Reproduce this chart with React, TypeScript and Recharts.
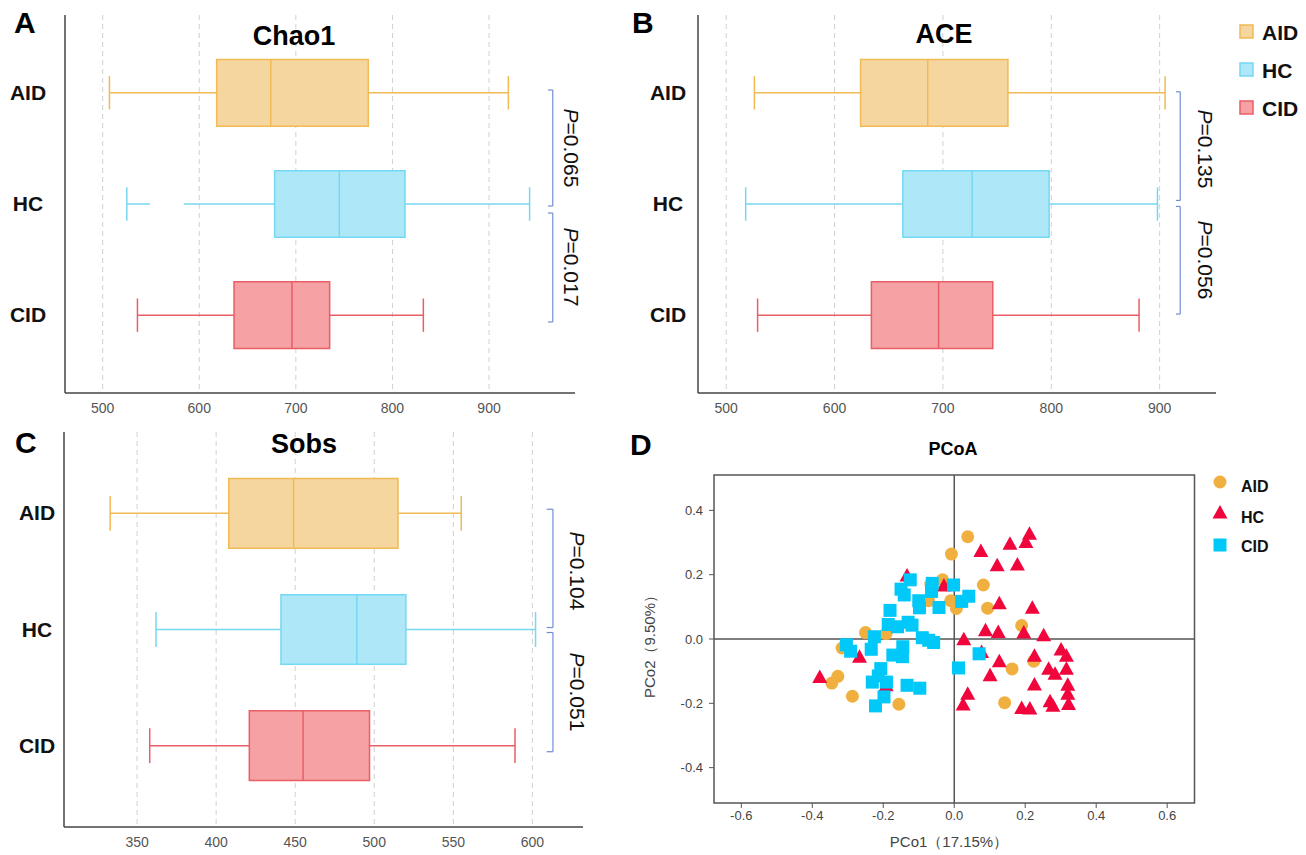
import React from 'react'
import {
  ComposedChart, ScatterChart, Scatter, XAxis, YAxis, CartesianGrid,
  ReferenceArea, ReferenceLine,
} from 'recharts'

const GROUPS = ['AID', 'HC', 'CID']
const ROWS = [3, 2, 1] // y position of AID, HC, CID

// [min, q1, median, q3, max]
const CHAO1 = [
  [507, 618, 674, 775, 920],
  [525, 678, 745, 813, 942],
  [536, 636, 696, 735, 832],
]
const CHAO1_GAP = [null, [549, 584], null] // HC whisker is broken here
const ACE = [
  [526, 624, 686, 760, 905],
  [518, 663, 727, 798, 898],
  [529, 634, 696, 746, 881],
]
const SOBS = [
  [333, 408, 449, 515, 555],
  [362, 441, 489, 520, 602],
  [358, 421, 455, 497, 589],
]

const CHAO1_TICKS = [500, 600, 700, 800, 900]
const ACE_TICKS = [500, 600, 700, 800, 900]
const SOBS_TICKS = [350, 400, 450, 500, 550, 600]

const CHAO1_P = ['0.065', '0.017']
const ACE_P = ['0.135', '0.056']
const SOBS_P = ['0.104', '0.051']

// PCoA coordinates [PCo1, PCo2]
const AID_PTS = [
  [0.038, 0.318], [-0.008, 0.264], [-0.033, 0.184], [-0.066, 0.171], [0.082, 0.168],
  [-0.072, 0.119], [-0.010, 0.119], [0.006, 0.095], [0.094, 0.096], [0.190, 0.042],
  [-0.250, 0.020], [-0.192, 0.017], [-0.316, -0.028], [-0.328, -0.116], [-0.345, -0.137],
  [-0.287, -0.178], [-0.156, -0.203], [0.163, -0.093], [0.224, -0.069], [0.142, -0.198],
]
const HC_PTS = [
  [0.212, 0.326], [0.202, 0.300], [0.157, 0.295], [0.075, 0.272], [0.121, 0.228],
  [0.178, 0.230], [-0.133, 0.196], [-0.029, 0.165], [0.127, 0.110], [0.220, 0.096],
  [0.088, 0.026], [0.124, 0.020], [0.196, 0.019], [0.252, 0.010], [0.027, -0.002],
  [-0.267, -0.057], [0.077, -0.042], [0.226, -0.054], [0.301, -0.034], [0.316, -0.054],
  [0.127, -0.071], [0.266, -0.094], [0.316, -0.094], [0.284, -0.110], [0.101, -0.114],
  [-0.379, -0.120], [0.226, -0.143], [0.320, -0.144], [0.038, -0.172], [0.320, -0.172],
  [0.025, -0.205], [0.270, -0.195], [0.278, -0.209], [0.190, -0.216], [0.213, -0.218],
  [0.322, -0.204], [-0.192, -0.145],
]
const CID_PTS = [
  [-0.124, 0.184], [-0.062, 0.173], [-0.002, 0.168], [-0.150, 0.155], [-0.141, 0.137],
  [-0.064, 0.148], [-0.100, 0.119], [-0.098, 0.097], [-0.043, 0.098], [0.021, 0.117],
  [0.041, 0.133], [-0.181, 0.089], [-0.186, 0.045], [-0.160, 0.038], [-0.130, 0.052],
  [-0.119, 0.043], [-0.225, 0.007], [-0.090, 0.004], [-0.072, -0.004], [-0.058, -0.011],
  [-0.304, -0.018], [-0.292, -0.038], [-0.234, -0.032], [-0.145, -0.024], [-0.173, -0.050],
  [-0.146, -0.055], [-0.207, -0.092], [-0.214, -0.115], [-0.231, -0.134], [-0.191, -0.134],
  [-0.133, -0.144], [-0.097, -0.153], [-0.198, -0.180], [-0.222, -0.208], [0.070, -0.046],
  [0.012, -0.090],
]
const PC_X_TICKS = [-0.6, -0.4, -0.2, 0, 0.2, 0.4, 0.6]
const PC_Y_TICKS = [-0.4, -0.2, 0, 0.2, 0.4]

const FILL = ['#F6D69F', '#AEE8F8', '#F6A1A4']
const STROKE = ['#F0BA55', '#76D7F2', '#EA5E66']
const DOT = ['#F0B040', '#F0063C', '#00C8F8']
const BRACKET = '#6F8FD2'
const NARROW = "'Liberation Sans Narrow', 'Liberation Sans', Arial, sans-serif"

function makeTick(offset: number) {
  return (props: any) => {
    const { x, y, payload } = props
    return (
      <text x={x - offset} y={y} dy={7} textAnchor="middle" fontSize={21}
        fontWeight="bold" fill="#111">
        {GROUPS[3 - payload.value]}
      </text>
    )
  }
}

function BoxPanel({ stats, gaps, ticks, xDomain, width, height, yAxisW, right, labelOffset, bx, tick, spans }: any) {
  const anchors = stats.map((s: number[], i: number) => ({ x: s[2], y: ROWS[i] }))
  const lines: any[] = []
  stats.forEach((s: number[], i: number) => {
    const c = ROWS[i]
    const col = STROKE[i]
    const gap = gaps ? gaps[i] : null
    const low = gap ? [[s[0], gap[0]], [gap[1], s[1]]] : [[s[0], s[1]]]
    low.forEach((seg, j) => lines.push(
      <ReferenceLine key={`l${i}${j}`} segment={[{ x: seg[0], y: c }, { x: seg[1], y: c }]} stroke={col} strokeWidth={1.5} />
    ))
    lines.push(
      <ReferenceLine key={`h${i}`} segment={[{ x: s[3], y: c }, { x: s[4], y: c }]} stroke={col} strokeWidth={1.5} />,
      <ReferenceLine key={`c0${i}`} segment={[{ x: s[0], y: c - 0.15 }, { x: s[0], y: c + 0.15 }]} stroke={col} strokeWidth={1.5} />,
      <ReferenceLine key={`c1${i}`} segment={[{ x: s[4], y: c - 0.15 }, { x: s[4], y: c + 0.15 }]} stroke={col} strokeWidth={1.5} />,
    )
  })
  return (
    <ComposedChart width={width} height={height} margin={{ top: 15, right, left: 0, bottom: 0 }}>
      <CartesianGrid horizontal={false} syncWithTicks stroke="#d0d0d0" strokeDasharray="5 4" />
      <XAxis type="number" dataKey="x" domain={xDomain} ticks={ticks} allowDataOverflow height={27}
        axisLine={{ stroke: '#444', strokeWidth: 1.5 }} tickLine={false} tickSize={0} tickMargin={10}
        tick={{ fill: '#555', fontSize: 14, fontFamily: NARROW }} />
      <YAxis type="number" dataKey="y" domain={[0.3, 3.7]} ticks={ROWS} allowDataOverflow width={yAxisW}
        axisLine={{ stroke: '#444', strokeWidth: 1.5 }} tickLine={false} tickSize={0} tickMargin={0}
        tick={makeTick(labelOffset)} />
      {stats.map((s: number[], i: number) => (
        <ReferenceArea key={`b${i}`} x1={s[1]} x2={s[3]} y1={ROWS[i] - 0.3} y2={ROWS[i] + 0.3}
          fill={FILL[i]} fillOpacity={1} stroke={STROKE[i]} strokeWidth={1.5} />
      ))}
      {lines}
      {stats.map((s: number[], i: number) => (
        <ReferenceLine key={`m${i}`} segment={[{ x: s[2], y: ROWS[i] - 0.3 }, { x: s[2], y: ROWS[i] + 0.3 }]}
          stroke={STROKE[i]} strokeWidth={1.5} />
      ))}
      {spans.map((sp: number[], k: number) => (
        <React.Fragment key={`br${k}`}>
          <ReferenceLine segment={[{ x: bx, y: sp[0] }, { x: bx, y: sp[1] }]} stroke={BRACKET} strokeWidth={1.2} />
          <ReferenceLine segment={[{ x: tick, y: sp[0] }, { x: bx, y: sp[0] }]} stroke={BRACKET} strokeWidth={1.2} />
          <ReferenceLine segment={[{ x: tick, y: sp[1] }, { x: bx, y: sp[1] }]} stroke={BRACKET} strokeWidth={1.2} />
        </React.Fragment>
      ))}
      <Scatter data={anchors} isAnimationActive={false} shape={() => <g />} legendType="none" />
    </ComposedChart>
  )
}

const toXY = (pts: number[][]) => pts.map(([x, y]) => ({ x, y }))

const circle = (fill: string) => (p: any) => <circle cx={p.cx} cy={p.cy} r={6.5} fill={fill} />
const triangle = (fill: string) => (p: any) => (
  <path d={`M${p.cx},${p.cy - 8}L${p.cx + 7.5},${p.cy + 5.5}L${p.cx - 7.5},${p.cy + 5.5}Z`} fill={fill} />
)
const square = (fill: string) => (p: any) => (
  <rect x={p.cx - 6.5} y={p.cy - 6.5} width={13} height={13} fill={fill} />
)

function PText({ x, y, v }: { x: number, y: number, v: string }) {
  return (
    <text transform={`translate(${x},${y}) rotate(90)`} textAnchor="middle" fontSize={21} fill="#111">
      <tspan fontStyle="italic">P</tspan>={v}
    </text>
  )
}

export default function App() {
  const fmt = (v: number) => v.toFixed(1)
  return (
    <div style={{ position: 'absolute', left: 0, top: 0, width: 1306, height: 855, background: '#fff',
      fontFamily: "'Liberation Sans', Arial, sans-serif" }}>
      <div style={{ position: 'absolute', left: 0, top: 0 }}>
        <BoxPanel stats={CHAO1} gaps={CHAO1_GAP} ticks={CHAO1_TICKS} xDomain={[461, 989]}
          width={600} height={420} yAxisW={65} right={25} labelOffset={37}
          bx={966} tick={961} spans={[[3.025, 1.982], [1.919, 0.939]]} />
      </div>
      <div style={{ position: 'absolute', left: 633, top: 0 }}>
        <BoxPanel stats={ACE} ticks={ACE_TICKS} xDomain={[474, 952]}
          width={600} height={420} yAxisW={65} right={17} labelOffset={30}
          bx={919} tick={915} spans={[[3.009, 2.032], [1.978, 1.01]]} />
      </div>
      <div style={{ position: 'absolute', left: 0, top: 417 }}>
        <BoxPanel stats={SOBS} ticks={SOBS_TICKS} xDomain={[303.8, 632]}
          width={600} height={437} yAxisW={64} right={17} labelOffset={27}
          bx={613} tick={609} spans={[[3.035, 2.017], [1.974, 0.948]]} />
      </div>
      <div style={{ position: 'absolute', left: 640, top: 430 }}>
        <ScatterChart width={600} height={425} margin={{ top: 45, right: 45.5, left: 0, bottom: 22 }}>
          <XAxis type="number" dataKey="x" domain={[-0.677, 0.677]} ticks={PC_X_TICKS} tickFormatter={fmt}
            allowDataOverflow height={30} axisLine={false} tickLine={{ stroke: '#555' }} tickSize={5} tickMargin={3}
            tick={{ fill: '#444', fontSize: 13, fontFamily: NARROW }} />
          <YAxis type="number" dataKey="y" domain={[-0.51, 0.51]} ticks={PC_Y_TICKS} tickFormatter={fmt}
            allowDataOverflow width={74} axisLine={false} tickLine={{ stroke: '#555' }} tickSize={5} tickMargin={6}
            tick={{ fill: '#444', fontSize: 13, fontFamily: NARROW }} />
          <ReferenceArea x1={-0.677} x2={0.677} y1={-0.51} y2={0.51} fill="none" stroke="#555" strokeWidth={1.5} ifOverflow="visible" />
          <ReferenceLine x={0} stroke="#555" strokeWidth={1.5} />
          <ReferenceLine y={0} stroke="#555" strokeWidth={1.5} />
          <Scatter data={toXY(AID_PTS)} shape={circle(DOT[0])} isAnimationActive={false} />
          <Scatter data={toXY(HC_PTS)} shape={triangle(DOT[1])} isAnimationActive={false} />
          <Scatter data={toXY(CID_PTS)} shape={square(DOT[2])} isAnimationActive={false} />
        </ScatterChart>
      </div>
      <svg width={1306} height={855} style={{ position: 'absolute', left: 0, top: 0, pointerEvents: 'none' }}>
        <g fontWeight="bold" fontSize={30} fill="#000">
          <text x={14} y={33}>A</text>
          <text x={632} y={33}>B</text>
          <text x={15} y={453}>C</text>
          <text x={630} y={455}>D</text>
        </g>
        <g fontWeight="bold" fontSize={27} fill="#000" textAnchor="middle">
          <text x={294} y={45}>Chao1</text>
          <text x={944} y={43}>ACE</text>
          <text x={304} y={453}>Sobs</text>
          <text x={953} y={455} fontSize={18}>PCoA</text>
        </g>
        <PText x={564} y={148} v={CHAO1_P[0]} />
        <PText x={564} y={267} v={CHAO1_P[1]} />
        <PText x={1198} y={149} v={ACE_P[0]} />
        <PText x={1198} y={260} v={ACE_P[1]} />
        <PText x={570} y={571} v={SOBS_P[0]} />
        <PText x={570} y={692} v={SOBS_P[1]} />
        {GROUPS.map((g, i) => (
          <g key={g}>
            <rect x={1240} y={25 + i * 38} width={13} height={13} fill={FILL[i]} stroke={STROKE[i]} strokeWidth={1.5} />
            <text x={1262} y={40 + i * 38} fontSize={21} fontWeight="bold" fill="#111">{g}</text>
          </g>
        ))}
        <circle cx={1220} cy={482} r={6.5} fill={DOT[0]} />
        <path d="M1220,505L1227.5,518.5L1212.5,518.5Z" fill={DOT[1]} />
        <rect x={1213.5} y={538.5} width={13} height={13} fill={DOT[2]} />
        <g fontSize={16} fontWeight="bold" fill="#111">
          <text x={1241} y={492}>AID</text>
          <text x={1241} y={523}>HC</text>
          <text x={1241} y={552}>CID</text>
        </g>
        <g fontSize={15} fill="#444" fontFamily={NARROW}>
          <text x={949} y={847} textAnchor="middle">PCo1（17.15%）</text>
          <text transform="translate(655,643) rotate(-90)" textAnchor="middle">PCo2（9.50%）</text>
        </g>
      </svg>
    </div>
  )
}
